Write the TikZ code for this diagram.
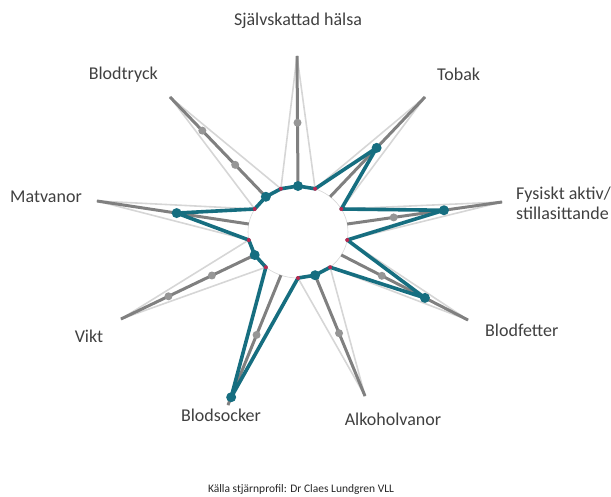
\documentclass[tikz,border=0pt]{standalone}
\usepackage{fontspec}
\setmainfont{Carlito}
\usetikzlibrary{calc,shapes.geometric}
\definecolor{tealc}{RGB}{22,110,128}
\definecolor{darkg}{RGB}{128,128,128}
\definecolor{lightg}{RGB}{214,214,214}
\definecolor{dotg}{RGB}{150,150,150}
\definecolor{redc}{RGB}{185,40,80}
\definecolor{txtg}{RGB}{64,64,64}
\begin{document}
\begin{tikzpicture}[x=1pt,y=-1pt,
  lbl/.style={font=\fontsize{18}{20}\selectfont, text=txtg, inner sep=0pt},
  spike/.style={draw=lightg, line width=1.6pt, line join=round},
  axisline/.style={draw=darkg, line width=3pt},
  tealline/.style={draw=tealc, line width=3.6pt, line join=round},
  gdot/.style={circle, fill=dotg, inner sep=0pt, minimum size=8pt},
  tdot/.style={circle, fill=tealc, inner sep=0pt, minimum size=10pt},
  rdot/.style={circle, fill=redc, inner sep=0pt, minimum size=4pt}]
\useasboundingbox (0,0) rectangle (611,496);

% circle points on the axes
\foreach \i/\a in {1/90,2/50,3/10,4/-30,5/-70,6/-110,7/-150,8/170,9/130}
  \coordinate (c\i) at ({298+50*cos(\a)},{232-46*sin(\a)});
% circle points between the axes
\foreach \i/\a in {1/70,2/30,3/-10,4/-50,5/-90,6/-130,7/-170,8/150,9/110}
  \coordinate (r\i) at ({298+50*cos(\a)},{232-46*sin(\a)});
% axis tips
\coordinate (p1) at (297,56);
\coordinate (p2) at (425,97);
\coordinate (p3) at (502,202);
\coordinate (p4) at (468,320);
\coordinate (p5) at (365,396);
\coordinate (p6) at (228,405);
\coordinate (p7) at (121,319);
\coordinate (p8) at (97,201);
\coordinate (p9) at (170,97);

% inner circle
\node[ellipse, minimum width=100pt, minimum height=92pt, inner sep=0pt,
  draw=lightg, line width=0.6pt, fill=white] (hub) at (298,232) {};

% light spikes
\draw[spike] (p1) -- (r1) -- (p2) -- (r2) -- (p3) -- (r3) -- (p4) -- (r4)
  -- (p5) -- (r5) -- (p6) -- (r6) -- (p7) -- (r7) -- (p8) -- (r8) -- (p9)
  -- (r9) -- cycle;

% axes
\foreach \i in {1,...,9} \draw[axisline] (c\i) -- (p\i);

% grey dots
\node[gdot] (g1) at ($(c1)!0.487!(p1)$) {};
\node[gdot] (g3) at ($(c3)!0.30!(p3)$) {};
\node[gdot] (g4) at ($(c4)!0.32!(p4)$) {};
\node[gdot] (g5) at ($(c5)!0.48!(p5)$) {};
\node[gdot] (g6) at ($(c6)!0.46!(p6)$) {};
\node[gdot] (g7a) at ($(c7)!0.32!(p7)$) {};
\node[gdot] (g7b) at ($(c7)!0.645!(p7)$) {};
\node[gdot] (g9a) at ($(c9)!0.32!(p9)$) {};
\node[gdot] (g9b) at ($(c9)!0.663!(p9)$) {};

% teal values
\coordinate (v1) at (c1);
\coordinate (v2) at ($(c2)!0.49!(p2)$);
\coordinate (v3) at ($(c3)!0.625!(p3)$);
\coordinate (v4) at ($(c4)!0.66!(p4)$);
\coordinate (v5) at (c5);
\coordinate (v6) at ($(c6)!0.94!(p6)$);
\coordinate (v7) at (c7);
\coordinate (v8) at ($(c8)!0.475!(p8)$);
\coordinate (v9) at (c9);

\draw[tealline] (v1) -- (r1) -- (v2) -- (r2) -- (v3) -- (r3) -- (v4) -- (r4)
  -- (v5) -- (r5) -- (v6) -- (r6) -- (v7) -- (r7) -- (v8) -- (r8) -- (v9)
  -- (r9) -- cycle;

\foreach \i in {1,...,9} \node[tdot] (td\i) at (v\i) {};
\foreach \i in {1,...,9} \node[rdot] (rd\i) at (r\i) {};

% labels
\node[lbl] (L1) at (298,21) {Självskattad hälsa};
\node[lbl, anchor=west] (L2) at (437,74) {Tobak};
\node[lbl, anchor=west, align=left] (L3) at (516,203) {Fysiskt aktiv/\\stillasittande};
\node[lbl, anchor=west] (L4) at (485,330) {Blodfetter};
\node[lbl] (L5) at (393,419) {Alkoholvanor};
\node[lbl] (L6) at (221,415) {Blodsocker};
\node[lbl] (L7) at (89,336) {Vikt};
\node[lbl, anchor=east] (L8) at (82,197) {Matvanor};
\node[lbl, anchor=east] (L9) at (158,75) {Blodtryck};
\node[font=\fontsize{11.5}{13}\selectfont, text=black!85, inner sep=0pt] (src) at (301,489)
  {Källa stjärnprofil: Dr Claes Lundgren VLL};
\end{tikzpicture}
\end{document}
